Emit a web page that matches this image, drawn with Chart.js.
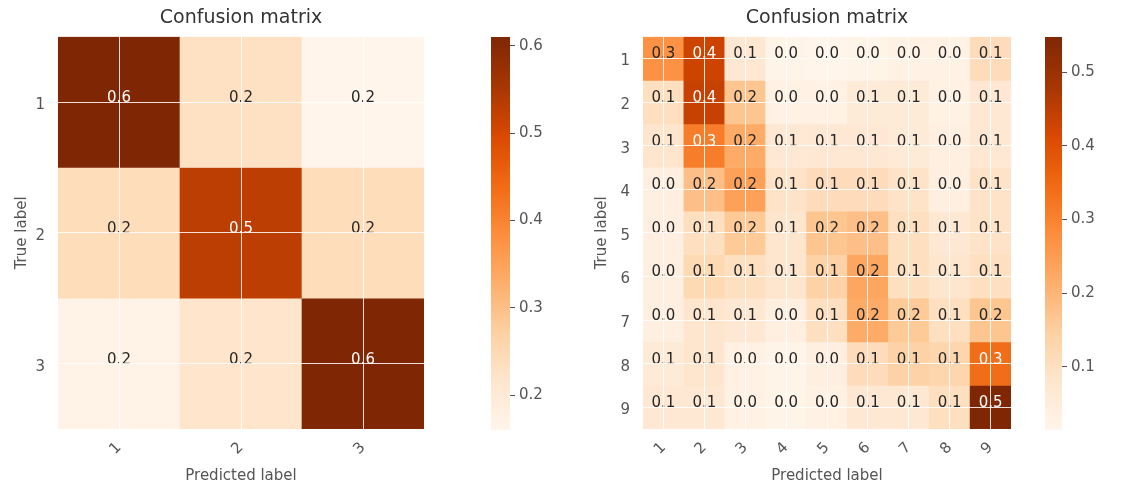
<!DOCTYPE html>
<html>
<head>
<meta charset="utf-8">
<script src="https://cdn.jsdelivr.net/npm/chart.js@4.4.0/dist/chart.umd.min.js"></script>
<style>
  body { margin: 0; background: #fff; width: 1139px; height: 491px; position: relative; overflow: hidden; }
  .box { position: absolute; top: 0; height: 491px; }
</style>
</head>
<body>
<div class="box" style="left:0;width:440px"><canvas id="cmSmall"></canvas></div>
<div class="box" style="left:470px;width:90px"><canvas id="cbSmall"></canvas></div>
<div class="box" style="left:580px;width:450px"><canvas id="cmBig"></canvas></div>
<div class="box" style="left:1030px;width:109px"><canvas id="cbBig"></canvas></div>
<script>
// --- data ---
const classesSmall = ['1', '2', '3'];
const matrixSmall = [
    [0.61, 0.23, 0.16],
    [0.24, 0.53, 0.24],
    [0.17, 0.22, 0.61]
];
const cbTicksSmall = [0.2, 0.3, 0.4, 0.5, 0.6];

const classesBig = ['1', '2', '3', '4', '5', '6', '7', '8', '9'];
const matrixBig = [
    [0.27, 0.43, 0.07, 0.02, 0.014, 0.02, 0.03, 0.03, 0.11],
    [0.10, 0.44, 0.17, 0.03, 0.03, 0.06, 0.06, 0.03, 0.07],
    [0.08, 0.31, 0.22, 0.07, 0.07, 0.07, 0.06, 0.04, 0.07],
    [0.04, 0.18, 0.24, 0.09, 0.11, 0.11, 0.09, 0.04, 0.09],
    [0.04, 0.10, 0.16, 0.08, 0.17, 0.18, 0.10, 0.07, 0.09],
    [0.04, 0.12, 0.10, 0.08, 0.14, 0.23, 0.10, 0.08, 0.10],
    [0.04, 0.08, 0.07, 0.04, 0.10, 0.22, 0.16, 0.10, 0.17],
    [0.06, 0.08, 0.03, 0.02, 0.04, 0.11, 0.14, 0.13, 0.34],
    [0.07, 0.07, 0.03, 0.02, 0.03, 0.07, 0.07, 0.10, 0.548]
];
const cbTicksBig = [0.1, 0.2, 0.3, 0.4, 0.5];

// matplotlib "Oranges"
const oranges = ['#fff5eb', '#fee6ce', '#fdd0a2', '#fdae6b', '#fd8d3c', '#f16913', '#d94801', '#a63603', '#7f2704'];

Chart.defaults.font.family = '"DejaVu Sans", sans-serif';

function rgb(hex) {
    return [1, 3, 5].map(k => parseInt(hex.slice(k, k + 2), 16));
}
function orangeAt(t) {
    t = Math.max(0, Math.min(1, t));
    const p = t * (oranges.length - 1);
    const i = Math.min(Math.floor(p), oranges.length - 2);
    const f = p - i;
    const a = rgb(oranges[i]), b = rgb(oranges[i + 1]);
    const c = a.map((v, k) => Math.round(v + (b[k] - v) * f));
    return 'rgb(' + c.join(',') + ')';
}

const tickFont = { size: 15 };
const gridWhite = 'rgba(255,255,255,0.85)';

function heatmap(id, classes, matrix, yWidth, padRight) {
    const flat = matrix.flat();
    const vmin = Math.min(...flat), vmax = Math.max(...flat);
    const thresh = (vmin + vmax) / 2;
    const n = classes.length;

    const datasets = matrix.map((row, i) => ({
        data: row.map(() => [i + 0.5, i + 1.5]),
        backgroundColor: row.map(v => orangeAt((v - vmin) / (vmax - vmin))),
        borderWidth: 0,
        grouped: false,
        barPercentage: 1,
        categoryPercentage: 1
    }));

    // cell values, like sklearn's ConfusionMatrixDisplay
    const cellLabels = {
        id: 'cellLabels',
        afterDatasetsDraw(chart) {
            const { ctx, scales: { x, y } } = chart;
            ctx.save();
            ctx.font = '15px "DejaVu Sans"';
            ctx.textAlign = 'center';
            ctx.textBaseline = 'middle';
            matrix.forEach((row, i) => row.forEach((v, j) => {
                ctx.fillStyle = v > thresh ? '#ffffff' : '#262626';
                ctx.fillText(v.toFixed(1), x.getPixelForValue(j), y.getPixelForValue(i + 1) - 4);
            }));
            ctx.restore();
        }
    };

    new Chart(document.getElementById(id), {
        type: 'bar',
        data: { labels: classes, datasets: datasets },
        plugins: [cellLabels],
        options: {
            responsive: true,
            maintainAspectRatio: false,
            animation: false,
            events: [],
            layout: { padding: { right: padRight } },
            plugins: {
                legend: { display: false },
                tooltip: { enabled: false },
                title: {
                    display: true,
                    text: 'Confusion matrix',
                    fullSize: false,
                    color: '#333',
                    font: { size: 19, weight: 'normal' },
                    padding: { top: 7, bottom: 7 }
                }
            },
            scales: {
                x: {
                    offset: true,
                    grid: { offset: false, color: gridWhite, lineWidth: 1, drawTicks: false, z: 1 },
                    border: { display: false },
                    ticks: { color: '#555', font: tickFont, minRotation: 45, maxRotation: 45, padding: 10 },
                    title: { display: true, text: 'Predicted label', color: '#555', font: tickFont, padding: { bottom: 6 } },
                    afterFit: s => { s.height = 62; }
                },
                y: {
                    type: 'linear',
                    reverse: true,
                    min: 0.5,
                    max: n + 0.5,
                    afterBuildTicks: s => { s.ticks = classes.map((c, i) => ({ value: i + 1 })); },
                    grid: { color: gridWhite, lineWidth: 1, drawTicks: false, z: 1 },
                    border: { display: false },
                    ticks: { color: '#555', font: tickFont, padding: 13, labelOffset: 3, callback: v => classes[v - 1] },
                    title: { display: true, text: 'True label', color: '#555', font: tickFont, padding: { top: 13 } },
                    afterFit: s => { s.width = yWidth; }
                }
            }
        }
    });
    return { vmin, vmax };
}

function colorbar(id, vmin, vmax, ticks, padLeft, axisWidth) {
    new Chart(document.getElementById(id), {
        type: 'bar',
        data: {
            labels: [''],
            datasets: [{
                data: [[vmin, vmax]],
                backgroundColor: function(c) {
                    const area = c.chart.chartArea;
                    if (!area) return oranges[0];
                    const g = c.chart.ctx.createLinearGradient(0, area.bottom, 0, area.top);
                    oranges.forEach((col, k) => g.addColorStop(k / (oranges.length - 1), col));
                    return g;
                },
                borderWidth: 0,
                barPercentage: 1,
                categoryPercentage: 1
            }]
        },
        options: {
            responsive: true,
            maintainAspectRatio: false,
            animation: false,
            events: [],
            layout: { padding: { left: padLeft, top: 37, bottom: 61 } },
            plugins: { legend: { display: false }, tooltip: { enabled: false } },
            scales: {
                x: { display: false },
                y: {
                    position: 'right',
                    min: vmin,
                    max: vmax,
                    afterBuildTicks: s => { s.ticks = ticks.map(v => ({ value: v })); },
                    ticks: { color: '#555', font: tickFont, padding: 4, callback: v => v.toFixed(1) },
                    grid: { drawOnChartArea: false, drawTicks: true, tickLength: 5, color: '#555' },
                    border: { display: false },
                    afterFit: s => { s.width = axisWidth; }
                }
            }
        }
    });
}

const rs = heatmap('cmSmall', classesSmall, matrixSmall, 58, 16);
colorbar('cbSmall', rs.vmin, rs.vmax, cbTicksSmall, 21, 50);

const rb = heatmap('cmBig', classesBig, matrixBig, 63, 19);
colorbar('cbBig', rb.vmin, rb.vmax, cbTicksBig, 15, 77);
</script>
</body>
</html>
